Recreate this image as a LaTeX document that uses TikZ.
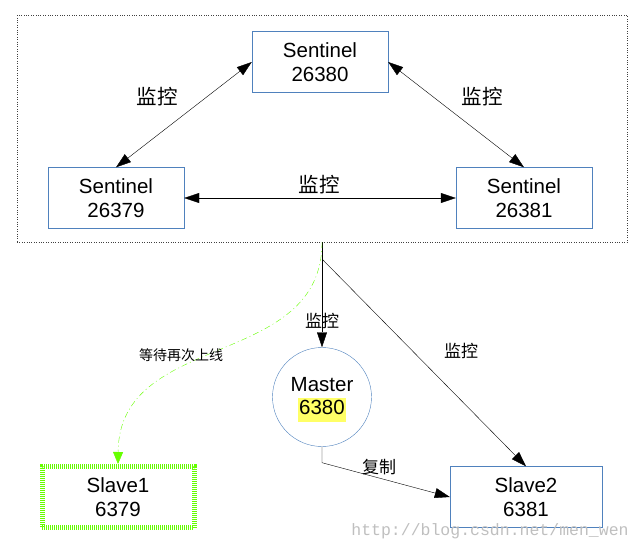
\documentclass[tikz,border=0pt]{standalone}
\usepackage{fontspec}
\setmainfont{Liberation Sans}
\newfontfamily\cjk{Noto Sans CJK SC}
\newfontfamily\wmfont{Liberation Mono}
\usetikzlibrary{arrows.meta,positioning}
\definecolor{boxblue}{RGB}{79,129,189}
\definecolor{slavegreen}{RGB}{102,255,0}
\definecolor{hlyellow}{RGB}{255,255,102}

\begin{document}
\begin{tikzpicture}[y=-1pt,x=1pt,
	font=\fontsize{20.5}{24}\selectfont,
	>={Triangle[length=15pt,width=10pt]},
	cluster/.style={draw=black!75, dotted, minimum width=610pt, minimum height=227pt},
	sentinel/.style={draw=boxblue, minimum width=136pt, minimum height=61pt, align=center, inner sep=0pt},
	slavebox/.style={minimum width=152pt, minimum height=61pt, align=center, inner sep=0pt},
	tag/.style={font=\cjk\fontsize{#1}{#1}\selectfont, inner sep=0pt},
	tag/.default=20.5]
	\newcommand\Watch{监控}
	\newcommand\Port[1]{\setlength{\fboxsep}{0pt}\colorbox{hlyellow}{\hspace{1.5pt}\strut #1\hspace{1.5pt}}}

	\useasboundingbox (0,0) rectangle (644,551);

	% sentinel group
	\node[cluster] (sentinels) at (322,128.5) {};
	\node[sentinel] (s26380) at (320,62) {Sentinel\\26380};
	\node[sentinel] (s26379) at (116,198) {Sentinel\\26379};
	\node[sentinel] (s26381) at (524,198) {Sentinel\\26381};

	\draw[<->] (s26379.north) -- (s26380.west);
	\draw[<->] (s26380.east) -- (s26381.north);
	\draw[<->] (s26379) -- (s26381);

	\node[tag] (w1) at (157,97) {\Watch};
	\node[tag] (w2) at (482,97) {\Watch};
	\node[tag] (w3) at (319,185) {\Watch};

	% redis nodes
	\node[draw=boxblue, circle, minimum size=99pt, inner sep=0pt] (master) at (322,397) {};
	\node[align=center, inner sep=0pt] (mastertext) at (322,399.5) {Master\\[-1pt]\Port{6380}};
	\node[slavebox, draw=slavegreen, line width=5pt, dash pattern=on 1pt off 1pt] (slave1) at (118,497) {Slave1\\6379};
	\node[slavebox, draw=boxblue] (slave2) at (526,497) {Slave2\\6381};

	\coordinate (fork) at (322,259);
	\draw[->] (sentinels.south) -- (master.north);
	\draw[->] (fork) -- (slave2.north);
	\draw[->] (master.south) -- ++(0,16) -- (slave2.west);
	\draw[-{Triangle[length=12pt,width=10pt]}, slavegreen, dash pattern=on 6pt off 3pt on 1pt off 3pt]
		(sentinels.south) .. controls (322,370) and (119,330) .. (slave1.north);

	\node[tag=17] (w4) at (322,321) {\Watch};
	\node[tag=17] (w5) at (461,351) {\Watch};
	\node[tag=17] (copy) at (379,467) {复制};
	\node[tag=14] (wait) at (181,355) {等待再次上线};

	\node[font=\wmfont\fontsize{16.5}{18}\selectfont, text=black!25, inner sep=0pt] (mark) at (490,531) {http://blog.csdn.net/men\_wen};
\end{tikzpicture}
\end{document}
